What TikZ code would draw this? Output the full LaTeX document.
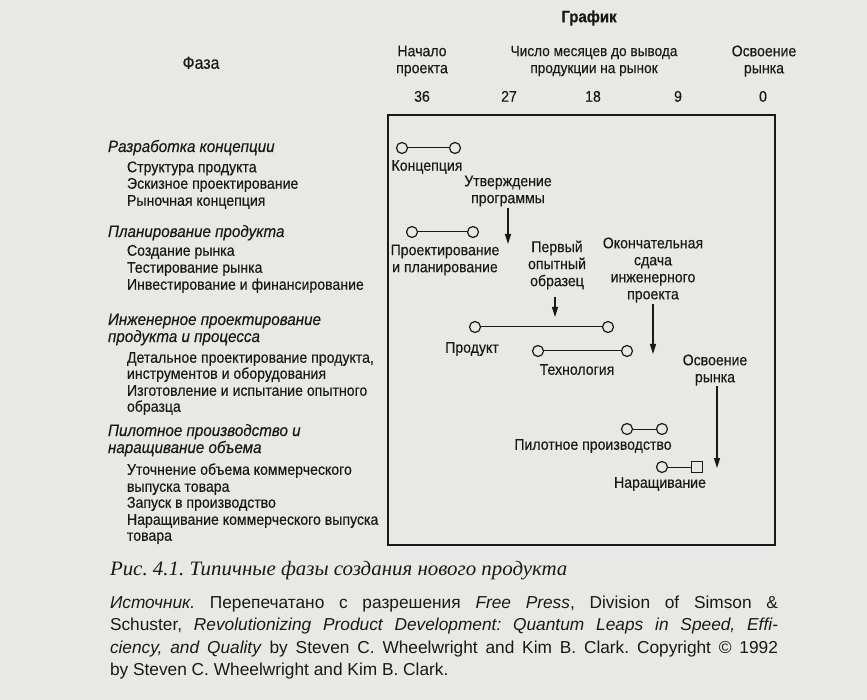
\documentclass[tikz,border=0pt]{standalone}
\usepackage{fontspec}
\usetikzlibrary{arrows.meta}
\setmainfont{Liberation Sans}
\newfontfamily\narrowf{Liberation Sans}[FakeStretch=0.91,FakeBold=0.3]
\newfontfamily\hdf{Liberation Sans}[FakeStretch=0.92,FakeBold=0.3]
\newfontfamily\capf{Liberation Serif}[FakeStretch=1.02]
\newfontfamily\srcf{Liberation Sans}
\definecolor{paper}{RGB}{232,232,230}
\definecolor{ink}{RGB}{25,25,25}
\begin{document}
\frenchspacing
\begin{tikzpicture}[x=1pt,y=-1pt,
  every node/.style={inner sep=0pt,outer sep=0pt,text=ink},
  txt/.style={font=\narrowf\fontsize{15.5}{17}\selectfont,align=center},
  one/.style={font=\narrowf\fontsize{15.5}{17}\selectfont,text height=11pt,text depth=3.5pt},
  lft/.style={one,anchor=west},
  hd/.style={font=\hdf\itshape\fontsize{16.5}{17}\selectfont,text height=11.5pt,text depth=3.5pt,anchor=west},
  ms/.style={circle,draw=ink,line width=1.2pt,minimum size=11pt},
  msq/.style={rectangle,draw=ink,line width=1.2pt,minimum size=11pt},
  bar/.style={draw=ink,line width=1pt},
  arr/.style={draw=ink,line width=1.3pt,-{Triangle[length=10pt,width=6pt]}}]
\fill[paper] (0,0) rectangle (867,700);
\useasboundingbox (0,0) rectangle (867,700);
% header
\node[font=\narrowf\bfseries\fontsize{16.5}{18}\selectfont,text height=12pt,text depth=3.5pt] (graf) at (589,18) {График};
\node[one,font=\narrowf\fontsize{17.5}{19}\selectfont] (faza) at (201,65) {Фаза};
\node[txt] (start) at (422,61) {Начало\\проекта};
\node[txt,font=\narrowf\fontsize{15}{17}\selectfont] (months) at (594,61) {Число месяцев до вывода\\продукции на рынок};
\node[txt] (mkt) at (764,61) {Освоение\\рынка};
\node[one] (n36) at (422,98) {36};
\node[one] (n27) at (509,98) {27};
\node[one] (n18) at (593,98) {18};
\node[one] (n9) at (678,98) {9};
\node[one] (n0) at (763,98) {0};
% frame
\node[draw=ink,line width=1.5pt,minimum width=387pt,minimum height=430pt] (frame) at (581.5,330) {};
% left column
\node[hd] (h1) at (108,148) {Разработка концепции};
\node[lft] (a1) at (127,168.5) {Структура продукта};
\node[lft] (a2) at (127,185) {Эскизное проектирование};
\node[lft] (a3) at (127,202) {Рыночная концепция};
\node[hd] (h2) at (108,233) {Планирование продукта};
\node[lft] (b1) at (127,252) {Создание рынка};
\node[lft] (b2) at (127,269) {Тестирование рынка};
\node[lft] (b3) at (127,286) {Инвестирование и финансирование};
\node[hd] (h3) at (108,321) {Инженерное проектирование};
\node[hd] (h3b) at (108,338) {продукта и процесса};
\node[lft] (c1) at (127,359) {Детальное проектирование продукта,};
\node[lft] (c2) at (127,375) {инструментов и оборудования};
\node[lft] (c3) at (127,392) {Изготовление и испытание опытного};
\node[lft] (c4) at (127,408) {образца};
\node[hd] (h4) at (108,432) {Пилотное производство и};
\node[hd] (h4b) at (108,449) {наращивание объема};
\node[lft] (d1) at (127,471) {Уточнение объема коммерческого};
\node[lft] (d2) at (127,488) {выпуска товара};
\node[lft] (d3) at (127,504) {Запуск в производство};
\node[lft] (d4) at (127,521) {Наращивание коммерческого выпуска};
\node[lft] (d5) at (127,537) {товара};
% chart: concept
\node[ms] (k1) at (402,148) {};
\node[ms] (k2) at (455,148) {};
\draw[bar] (k1) -- (k2);
\node[one] (kl) at (427,167) {Концепция};
% program approval
\node[txt] (appr) at (508,191) {Утверждение\\программы};
\coordinate (apprs) at (508,208);
\coordinate (apprtip) at (508,244);
\draw[arr] (apprs) -- (apprtip);
% design & planning
\node[ms] (p1) at (412,232) {};
\node[ms] (p2) at (473,232) {};
\draw[bar] (p1) -- (p2);
\node[txt] (pl) at (445,260) {Проектирование\\и планирование};
% first prototype
\node[txt] (proto) at (557,265) {Первый\\опытный\\образец};
\coordinate (protos) at (555,297);
\coordinate (prototip) at (555,317);
\draw[arr] (protos) -- (prototip);
% final engineering release
\node[txt] (rel) at (653,270) {Окончательная\\сдача\\инженерного\\проекта};
\coordinate (rels) at (653,304);
\coordinate (reltip) at (653,354);
\draw[arr] (rels) -- (reltip);
% product
\node[ms] (pr1) at (475,327) {};
\node[ms] (pr2) at (608,327) {};
\draw[bar] (pr1) -- (pr2);
\node[one] (prl) at (472,349) {Продукт};
% technology
\node[ms] (t1) at (538,351) {};
\node[ms] (t2) at (627,351) {};
\draw[bar] (t1) -- (t2);
\node[one] (tl) at (577,371) {Технология};
% market introduction
\node[txt] (intro) at (715,370) {Освоение\\рынка};
\coordinate (intros) at (717,386);
\coordinate (introtip) at (717,468);
\draw[arr] (intros) -- (introtip);
% pilot
\node[ms] (pi1) at (627,429) {};
\node[ms] (pi2) at (662,429) {};
\draw[bar] (pi1) -- (pi2);
\node[one] (pil) at (593,446) {Пилотное производство};
% ramp-up
\node[ms] (r1) at (662,467) {};
\node[msq] (r2) at (697,467) {};
\draw[bar] (r1) -- (r2);
\node[one] (rl) at (660,484) {Наращивание};
% caption
\node[anchor=west,font=\capf\itshape\fontsize{20.5}{22}\selectfont,text height=13pt,text depth=4.5pt] (cap) at (110,571) {Рис. 4.1. Типичные фазы создания нового продукта};
\node[anchor=north west,text width=668pt,align=justify,font=\srcf\fontsize{17.3}{22.4}\selectfont] (src) at (110,596)
{\textit{Источник.} Перепечатано с разрешения \textit{Free Press}, Division of Simson \&\linebreak
Schuster, \textit{Revolutionizing Product Development: Quantum Leaps in Speed, Effi-}\linebreak
\textit{ciency, and Quality} by Steven C. Wheelwright and Kim B. Clark. Copyright © 1992\linebreak
by Steven C. Wheelwright and Kim B. Clark.};
\end{tikzpicture}
\end{document}
